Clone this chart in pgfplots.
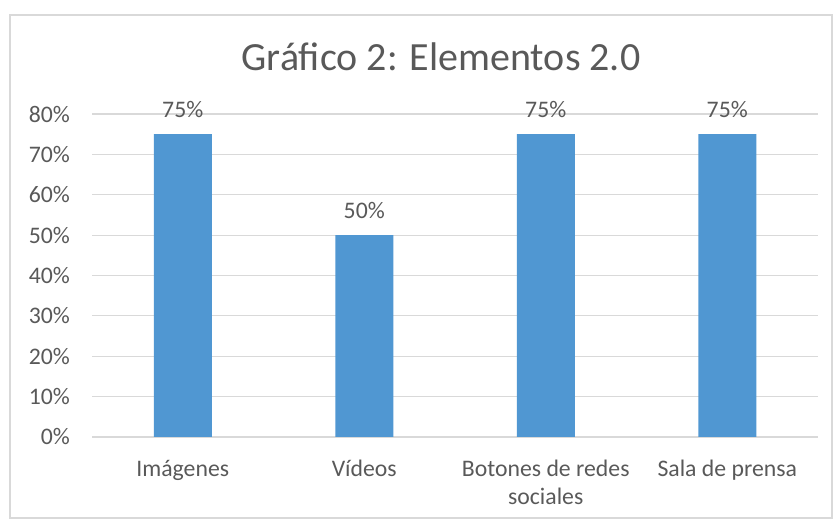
\documentclass[border=0pt]{standalone}
\usepackage{pgfplots}
\pgfplotsset{compat=1.18}
\usepackage{fontspec}
\setmainfont{Carlito}
\definecolor{barblue}{HTML}{5097D2}
\definecolor{txtgray}{HTML}{595959}
\definecolor{gridgray}{HTML}{D9D9D9}

\begin{document}
\begin{tikzpicture}[x=1pt,y=1pt]
\useasboundingbox (0,0) rectangle (625.5,390);
\draw[gridgray, line width=0.8pt] (7.5,1.5) rectangle (624,378.75);
\node[txtgray, font=\fontsize{30}{36}\selectfont] at (330.75,347.25) {Gráfico 2: Elementos 2.0};
\begin{axis}[
    at={(69pt,62.25pt)}, anchor=south west,
    scale only axis,
    width=544.5pt, height=242.25pt,
    ybar, bar width=43.5pt,
    xmin=-0.5, xmax=3.5,
    ymin=0, ymax=80,
    ytick={0,10,...,80},
    xtick=data,
    xticklabels={Imágenes, Vídeos, {Botones de redes\\sociales}, Sala de prensa},
    yticklabel={\pgfmathprintnumber{\tick}\%},
    /pgf/number format/assume math mode=true,
    axis line style={draw=none},
    ymajorgrids, grid style={gridgray, line width=0.8pt},
    major tick length=0pt,
    tick label style={txtgray, font=\fontsize{17.8}{21}\selectfont},
    xticklabel style={align=center, yshift=-14pt},
    yticklabel style={xshift=-13pt},
    nodes near coords={\pgfmathprintnumber{\pgfplotspointmeta}\%},
    nodes near coords style={txtgray, font=\fontsize{17.8}{21}\selectfont, /pgf/number format/assume math mode=true, yshift=9pt},
    clip=false,
]
\addplot[fill=barblue, draw=none] coordinates {(0,75) (1,50) (2,75) (3,75)};
\end{axis}
\end{tikzpicture}
\end{document}
